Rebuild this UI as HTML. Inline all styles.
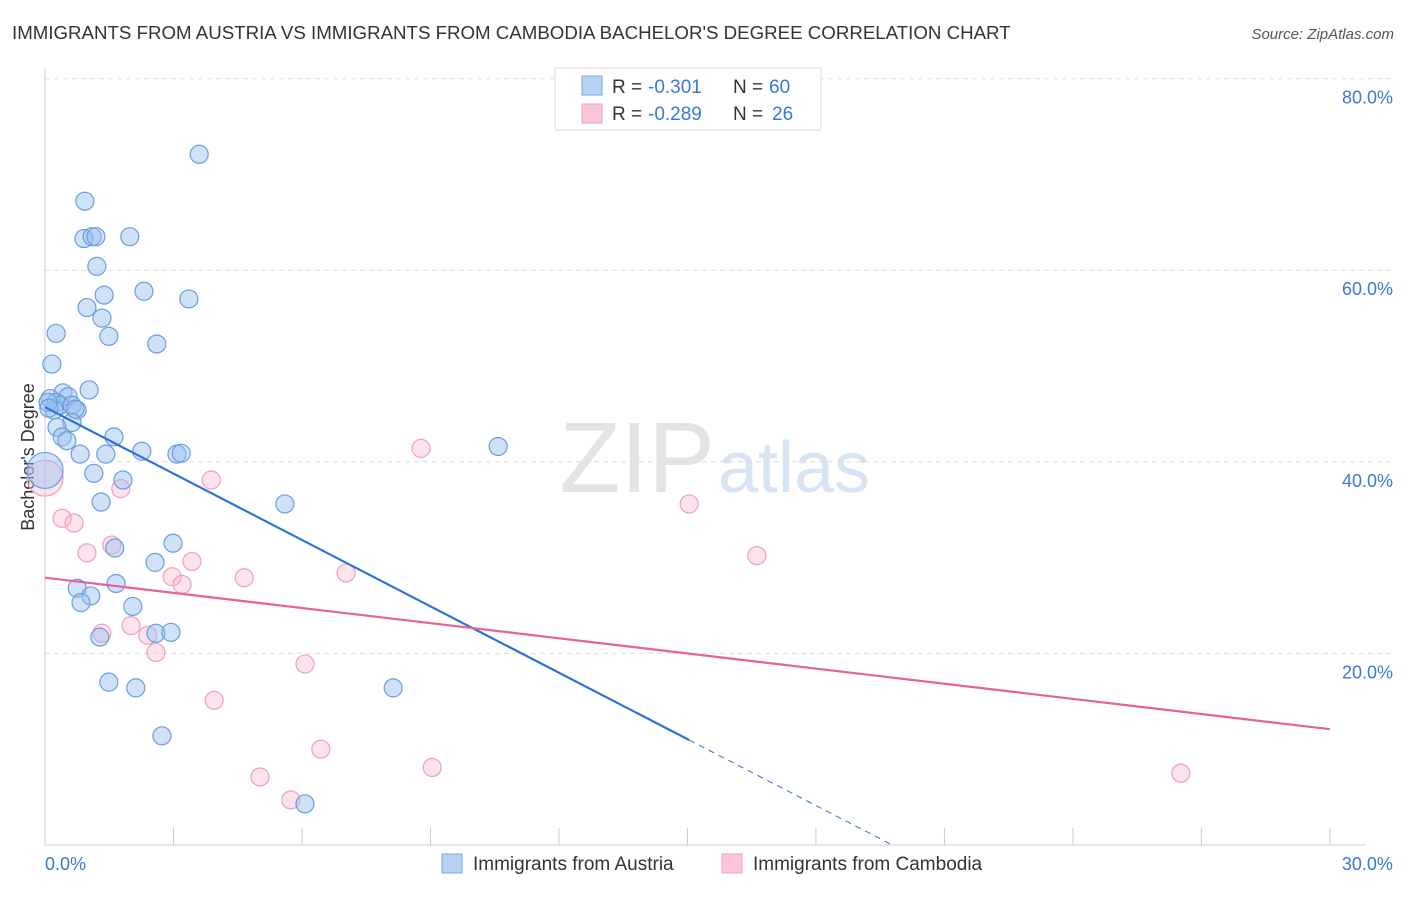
<!DOCTYPE html>
<html><head><meta charset="utf-8"><style>
body{margin:0;background:#fff;font-family:"Liberation Sans",sans-serif}
svg text{font-family:"Liberation Sans",sans-serif}
</style></head><body>
<svg id="c" width="1406" height="892" xmlns="http://www.w3.org/2000/svg">
<text x="12" y="39" font-size="18.7" fill="#333">IMMIGRANTS FROM AUSTRIA VS IMMIGRANTS FROM CAMBODIA BACHELOR'S DEGREE CORRELATION CHART</text>
<text x="1394" y="39" font-size="15" fill="#555" font-style="italic" text-anchor="end">Source: ZipAtlas.com</text>
<text x="715" y="492" font-size="100" fill="#e4e4e4" font-family="Liberation Serif" text-anchor="end">ZIP</text>
<text x="718" y="492" font-size="72" fill="#d6e4f4">atlas</text>
<text transform="translate(34,457) rotate(-90)" font-size="18" fill="#333" text-anchor="middle">Bachelor's Degree</text>
<g id="grid"></g><g id="marks"></g>
<g>
<rect x="555" y="68" width="266" height="62" fill="#fff" stroke="#ddd"/>
<rect x="582" y="76" width="20" height="19" fill="#b8d2f5" stroke="#7aa6e6"/>
<rect x="582" y="104" width="20" height="19" fill="#fcc6d6" stroke="#f0a0b8"/>
<text x="612" y="93" font-size="19" fill="#333">R =</text>
<text x="648" y="93" font-size="19" fill="#3a78d8">-0.301</text>
<text x="733" y="93" font-size="19" fill="#333">N =</text>
<text x="769" y="93" font-size="19" fill="#3a78d8">60</text>
<text x="612" y="120" font-size="19" fill="#333">R =</text>
<text x="648" y="120" font-size="19" fill="#3a78d8">-0.289</text>
<text x="733" y="120" font-size="19" fill="#333">N =</text>
<text x="772" y="120" font-size="19" fill="#3a78d8">26</text>
</g>
<g>
<rect x="442" y="854" width="20" height="19" fill="#b8d2f5" stroke="#7aa6e6"/>
<text x="473" y="870" font-size="19" fill="#333">Immigrants from Austria</text>
<rect x="722" y="854" width="20" height="19" fill="#fcc6d6" stroke="#f0a0b8"/>
<text x="753" y="870" font-size="19" fill="#333">Immigrants from Cambodia</text>
</g>
</svg>
<script>
const austriaX=[3.60,0.93,0.91,1.10,1.19,1.98,1.21,2.31,1.38,3.36,0.98,1.33,0.26,1.49,2.61,0.16,1.03,0.42,0.54,0.12,0.26,0.35,0.63,0.75,0.70,0.21,0.63,0.28,0.40,0.51,1.61,0.82,1.42,2.26,3.08,3.18,10.58,1.14,1.82,1.31,5.60,1.63,2.99,2.57,1.66,0.75,1.07,0.84,2.05,1.28,2.59,2.94,1.49,2.12,8.13,2.73,6.07,0,0.07,0.09];
const austriaY=[72.1,67.2,63.3,63.5,63.5,63.5,60.4,57.8,57.4,57.0,56.1,55.0,53.4,53.1,52.3,50.2,47.5,47.2,46.8,46.6,46.2,45.9,45.9,45.4,45.5,45.4,44.1,43.6,42.6,42.2,42.6,40.8,40.8,41.1,40.8,40.9,41.6,38.8,38.1,35.8,35.6,31.0,31.5,29.5,27.3,26.8,26.0,25.3,24.9,21.7,22.1,22.2,17.0,16.4,16.4,11.4,4.3,39.1,46.2,45.6];
const cambodiaX=[0,0.40,0.68,0.98,1.56,1.77,3.88,8.78,15.04,16.62,3.43,2.97,3.20,4.65,7.03,1.33,2.01,2.40,2.59,6.07,3.95,6.44,9.04,5.02,5.74,26.52];
const cambodiaY=[38.3,34.1,33.6,30.5,31.3,37.2,38.1,41.4,35.6,30.2,29.6,28.0,27.2,27.9,28.4,22.1,22.9,21.9,20.1,18.9,15.1,10.0,8.1,7.1,4.7,7.5];
const yTicks=[20,40,60,80];
const xTickVals=[0,3,6,9,12,15,18,21,24,27,30];
const trendAustria=[45.7,-2.31,15.04];
const trendCambodia=[27.9,-0.527];
const X=v=>45+v*42.83, Y=v=>845-v*9.58;
const NS="http://www.w3.org/2000/svg";
function mk(t,a,p){const e=document.createElementNS(NS,t);for(const k in a)e.setAttribute(k,a[k]);p.appendChild(e);return e;}
const g=document.getElementById('grid'),m=document.getElementById('marks');
yTicks.forEach(v=>{
 const l=mk('line',{x1:45,x2:1393,y1:Y(v),y2:Y(v),stroke:'#ddd','stroke-dasharray':'5,4'},g);
 
 
 const t=mk('text',{x:1393,y:Y(v)+25,'font-size':18,fill:'#3a78d8','text-anchor':'end'},g);t.textContent=v.toFixed(1)+'%';
 
 
});
const ax=mk('line',{x1:45,x2:1366,y1:845,y2:845,stroke:'#ccc'},g);


const ay=mk('line',{x1:45,x2:45,y1:68,y2:845,stroke:'#ccc'},g);


xTickVals.forEach(v=>{const l=mk('line',{x1:X(v),x2:X(v),y1:828,y2:845,stroke:'#ccc'},g);
 
 });
[[0,'start'],[30,'end']].forEach(([v,a])=>{const t=mk('text',{x:X(v)+(v?63:0),y:870,'font-size':18,fill:'#3a78d8','text-anchor':a},g);t.textContent=v.toFixed(1)+'%';
 
 });
function pts(xs,ys,fill,stroke,name){xs.forEach((x,i)=>{const big=x===0;
 const c=mk('circle',{cx:X(x),cy:Y(ys[i]),r:big?18:9,fill:fill,stroke:stroke,'stroke-width':1.2},m);
 
 });}
pts(cambodiaX,cambodiaY,'rgba(248,175,198,0.35)','#f0a0b8','cambodia-point');
pts(austriaX,austriaY,'rgba(150,190,240,0.45)','#6a9de0','austria-point');
const [a0,a1,aEnd]=trendAustria;
const ls=mk('line',{x1:X(0),y1:Y(a0),x2:X(aEnd),y2:Y(a0+a1*aEnd),stroke:'#2a72d8','stroke-width':2.2},m);


const xz=-a0/a1;
const ld=mk('line',{x1:X(aEnd),y1:Y(a0+a1*aEnd),x2:X(xz),y2:Y(0),stroke:'#2a72d8','stroke-width':1,'stroke-dasharray':'6,5'},m);


const lp=mk('line',{x1:X(0),y1:Y(trendCambodia[0]),x2:X(30),y2:Y(trendCambodia[0]+trendCambodia[1]*30),stroke:'#e8638f','stroke-width':2.2},m);


</script>
</body></html>
